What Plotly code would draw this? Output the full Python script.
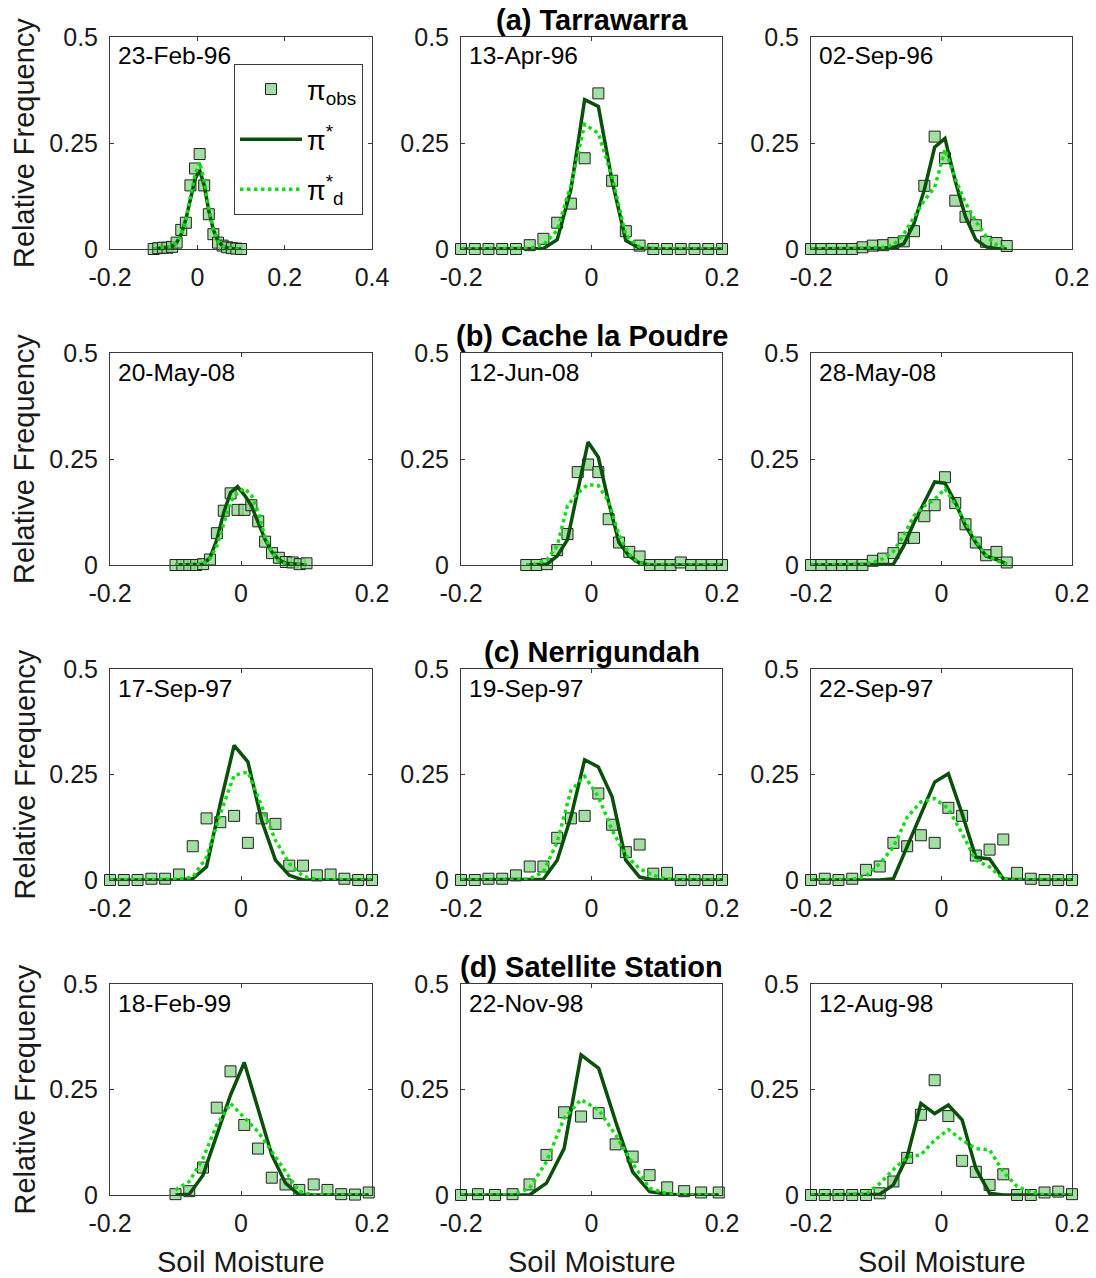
import plotly.graph_objects as go

W, H = 1096, 1278
FONT = "Liberation Sans, Arial, Helvetica, sans-serif"

# ---------------- data ----------------
site_titles = ["(a) Tarrawarra", "(b) Cache la Poudre", "(c) Nerrigundah", "(d) Satellite Station"]
dates = ["23-Feb-96", "13-Apr-96", "02-Sep-96",
         "20-May-08", "12-Jun-08", "28-May-08",
         "17-Sep-97", "19-Sep-97", "22-Sep-97",
         "18-Feb-99", "22-Nov-98", "12-Aug-98"]

x_m10_p10 = [-0.1, -0.0895, -0.0789, -0.0684, -0.0579, -0.0474, -0.0368, -0.0263, -0.0158, -0.0053,
             0.0053, 0.0158, 0.0263, 0.0368, 0.0474, 0.0579, 0.0684, 0.0789, 0.0895, 0.1]
x_m20_p20 = [-0.2, -0.1789, -0.1579, -0.1368, -0.1158, -0.0947, -0.0737, -0.0526, -0.0316, -0.0105,
             0.0105, 0.0316, 0.0526, 0.0737, 0.0947, 0.1158, 0.1368, 0.1579, 0.1789, 0.2]
x_m20_p10 = [-0.2, -0.1842, -0.1684, -0.1526, -0.1368, -0.1211, -0.1053, -0.0895, -0.0737, -0.0579,
             -0.0421, -0.0263, -0.0105, 0.0053, 0.0211, 0.0368, 0.0526, 0.0684, 0.0842, 0.1]
x_m10_p20 = [-0.1, -0.0842, -0.0684, -0.0526, -0.0368, -0.0211, -0.0053, 0.0105, 0.0263, 0.0421,
             0.0579, 0.0737, 0.0895, 0.1053, 0.1211, 0.1368, 0.1526, 0.1684, 0.1842, 0.2]
x_feb99 = [-0.1, -0.079, -0.058, -0.037, -0.016, 0.005, 0.026, 0.047, 0.068, 0.089,
           0.111, 0.132, 0.153, 0.174, 0.195]
x_nov98 = [-0.2, -0.174, -0.148, -0.121, -0.095, -0.069, -0.042, -0.016, 0.011, 0.037,
           0.063, 0.089, 0.116, 0.142, 0.168, 0.195]

# 23-Feb-96
obs_1 = [0.0, 0.002, 0.003, 0.003, 0.005, 0.015, 0.045, 0.062, 0.15, 0.19, 0.224, 0.15, 0.082, 0.035, 0.015, 0.008, 0.004, 0.002, 0.001, 0.0]
pst_1 = [0.0, 0.001, 0.002, 0.003, 0.006, 0.015, 0.035, 0.07, 0.12, 0.165, 0.186, 0.15, 0.09, 0.045, 0.018, 0.007, 0.003, 0.001, 0.0, 0.0]
pd_1 = [0.0, 0.001, 0.002, 0.003, 0.006, 0.015, 0.035, 0.07, 0.125, 0.175, 0.205, 0.16, 0.095, 0.045, 0.018, 0.007, 0.003, 0.001, 0.0, 0.0]
# 13-Apr-96
obs_2 = [0, 0, 0, 0, 0, 0.009, 0.024, 0.062, 0.107, 0.214, 0.367, 0.161, 0.042, 0.008, 0, 0, 0, 0, 0, 0]
pst_2 = [0, 0, 0, 0, 0, 0, 0.001, 0.022, 0.14, 0.352, 0.336, 0.16, 0.02, 0.002, 0, 0, 0, 0, 0, 0]
pd_2 = [0, 0, 0, 0, 0, 0.002, 0.01, 0.044, 0.15, 0.294, 0.273, 0.17, 0.032, 0.005, 0.001, 0, 0, 0, 0, 0]
# 02-Sep-96
obs_3 = [0, 0, 0, 0, 0, 0.004, 0.008, 0.009, 0.014, 0.018, 0.042, 0.149, 0.265, 0.214, 0.114, 0.076, 0.056, 0.017, 0.014, 0.007]
pst_3 = [0, 0, 0, 0, 0, 0, 0.001, 0.002, 0.004, 0.012, 0.06, 0.14, 0.24, 0.261, 0.16, 0.076, 0.022, 0.005, 0.001, 0]
pd_3 = [0, 0, 0, 0, 0.001, 0.002, 0.003, 0.004, 0.01, 0.035, 0.075, 0.115, 0.145, 0.235, 0.166, 0.109, 0.065, 0.03, 0.01, 0.002]
# 20-May-08
obs_4 = [0, 0, 0, 0, 0.002, 0.013, 0.075, 0.128, 0.169, 0.13, 0.13, 0.141, 0.103, 0.055, 0.028, 0.017, 0.007, 0.006, 0.002, 0.004]
pst_4 = [0, 0, 0, 0, 0.002, 0.017, 0.06, 0.124, 0.171, 0.185, 0.165, 0.14, 0.1, 0.06, 0.03, 0.012, 0.004, 0.002, 0.001, 0]
pd_4 = [0, 0, 0, 0, 0.003, 0.015, 0.045, 0.1, 0.15, 0.17, 0.181, 0.165, 0.125, 0.065, 0.03, 0.008, 0.003, 0.001, 0, 0]
# 12-Jun-08
obs_5 = [0, 0, 0.002, 0.035, 0.073, 0.219, 0.237, 0.219, 0.108, 0.053, 0.031, 0.02, 0, 0, 0, 0.006, 0, 0, 0, 0]
pst_5 = [0, 0.001, 0.002, 0.021, 0.06, 0.175, 0.29, 0.254, 0.148, 0.053, 0.021, 0.004, 0, 0, 0, 0, 0, 0, 0, 0]
pd_5 = [0, 0.002, 0.013, 0.045, 0.14, 0.17, 0.19, 0.187, 0.15, 0.07, 0.025, 0.004, 0.001, 0, 0, 0, 0, 0, 0, 0]
# 28-May-08
obs_6 = [0, 0, 0, 0, 0, 0, 0.01, 0.015, 0.028, 0.064, 0.064, 0.115, 0.141, 0.207, 0.146, 0.096, 0.053, 0.023, 0.031, 0.006]
pst_6 = [0, 0, 0, 0, 0, 0, 0, 0.001, 0.002, 0.045, 0.1, 0.148, 0.196, 0.193, 0.148, 0.092, 0.053, 0.021, 0.013, 0.002]
pd_6 = [0, 0, 0, 0, 0, 0.002, 0.006, 0.015, 0.032, 0.07, 0.116, 0.139, 0.155, 0.18, 0.143, 0.1, 0.057, 0.023, 0.01, 0.002]
# 17-Sep-97
obs_7 = [0, 0, 0, 0.003, 0.003, 0.013, 0.08, 0.146, 0.137, 0.152, 0.088, 0.146, 0.133, 0.034, 0.034, 0.011, 0.013, 0.003, 0, 0]
pst_7 = [0, 0, 0, 0, 0, 0, 0.003, 0.031, 0.181, 0.319, 0.28, 0.141, 0.047, 0.011, 0, 0, 0, 0, 0, 0]
pd_7 = [0, 0, 0, 0, 0, 0.002, 0.007, 0.054, 0.157, 0.248, 0.256, 0.173, 0.094, 0.039, 0.009, 0.001, 0, 0, 0, 0]
# 19-Sep-97
obs_8 = [0, 0, 0.003, 0.003, 0.011, 0.032, 0.032, 0.1, 0.146, 0.152, 0.205, 0.131, 0.066, 0.084, 0.015, 0.017, 0, 0, 0, 0]
pst_8 = [0, 0, 0, 0, 0, 0, 0.002, 0.047, 0.149, 0.285, 0.268, 0.197, 0.047, 0.007, 0, 0, 0, 0, 0, 0]
pd_8 = [0, 0, 0, 0, 0, 0.003, 0.019, 0.09, 0.212, 0.246, 0.197, 0.118, 0.058, 0.027, 0.011, 0.002, 0, 0, 0, 0]
# 22-Sep-97
obs_9 = [0, 0.003, 0, 0.003, 0.024, 0.032, 0.088, 0.08, 0.106, 0.088, 0.171, 0.152, 0.058, 0.072, 0.096, 0.017, 0.003, 0, 0, 0]
pst_9 = [0, 0, 0, 0, 0, 0, 0.003, 0.08, 0.16, 0.232, 0.252, 0.157, 0.054, 0.05, 0.003, 0, 0, 0, 0, 0]
pd_9 = [0, 0, 0, 0.001, 0.009, 0.039, 0.078, 0.149, 0.185, 0.193, 0.169, 0.11, 0.047, 0.031, 0.003, 0, 0, 0, 0, 0]
# 18-Feb-99
obs_10 = [0.002, 0.009, 0.065, 0.207, 0.293, 0.166, 0.11, 0.041, 0.025, 0.012, 0.025, 0.012, 0.002, 0.001, 0.006]
pst_10 = [0, 0.002, 0.047, 0.142, 0.237, 0.314, 0.205, 0.095, 0.028, 0, 0, 0, 0, 0, 0]
pd_10 = [0.012, 0.032, 0.087, 0.166, 0.217, 0.182, 0.15, 0.103, 0.055, 0.008, 0, 0, 0, 0, 0]
# 22-Nov-98
obs_11 = [0, 0.002, 0, 0.002, 0.025, 0.095, 0.196, 0.186, 0.194, 0.12, 0.091, 0.047, 0.018, 0.009, 0.006, 0.006]
pst_11 = [0, 0, 0, 0, 0, 0.028, 0.11, 0.332, 0.3, 0.174, 0.055, 0.008, 0.002, 0, 0, 0]
pd_11 = [0, 0, 0, 0, 0.016, 0.079, 0.182, 0.226, 0.202, 0.142, 0.075, 0.016, 0.003, 0, 0, 0]
# 12-Aug-98
obs_12 = [0, 0, 0, 0, 0, 0.004, 0.032, 0.088, 0.19, 0.272, 0.187, 0.081, 0.055, 0.024, 0.049, 0, 0, 0.006, 0.008, 0.002]
pst_12 = [0, 0, 0, 0, 0, 0.002, 0.024, 0.091, 0.217, 0.193, 0.213, 0.178, 0.063, 0.004, 0, 0, 0, 0, 0, 0]
pd_12 = [0, 0, 0, 0, 0.002, 0.027, 0.06, 0.09, 0.095, 0.13, 0.155, 0.13, 0.11, 0.107, 0.055, 0.02, 0.007, 0, 0, 0]

panels = [
    (x_m10_p10, obs_1, pst_1, pd_1),
    (x_m20_p20, obs_2, pst_2, pd_2),
    (x_m20_p10, obs_3, pst_3, pd_3),
    (x_m10_p10, obs_4, pst_4, pd_4),
    (x_m10_p20, obs_5, pst_5, pd_5),
    (x_m20_p10, obs_6, pst_6, pd_6),
    (x_m20_p20, obs_7, pst_7, pd_7),
    (x_m20_p20, obs_8, pst_8, pd_8),
    (x_m20_p20, obs_9, pst_9, pd_9),
    (x_feb99, obs_10, pst_10, pd_10),
    (x_nov98, obs_11, pst_11, pd_11),
    (x_m20_p20, obs_12, pst_12, pd_12),
]

y_ticks = [0, 0.25, 0.5]
y_ticktext = ["0", "0.25", "0.5"]
x_ticks_wide = [-0.2, 0, 0.2, 0.4]
x_ticktext_wide = ["-0.2", "0", "0.2", "0.4"]
x_ticks = [-0.2, 0, 0.2]
x_ticktext = ["-0.2", "0", "0.2"]

# ---------------- layout geometry (pixels) ----------------
col_px = [(110, 372), (461, 722), (811, 1072)]
row_px = [(37, 249), (353, 565), (669, 880), (984, 1195)]

DARK = "#0a500a"
LIGHT = "#12dd12"
SQ_FILL = "rgba(140,214,140,0.8)"
AXC = "#3a3a3a"

fig = go.Figure()
layout = dict(
    template="none",
    width=W, height=H,
    margin=dict(l=0, r=0, t=0, b=0, pad=0, autoexpand=False),
    paper_bgcolor="white", plot_bgcolor="white",
    font=dict(family=FONT, size=24, color="black"),
    showlegend=True,
)

annotations = []
for k, (xs, ob, ps, pdd) in enumerate(panels):
    r, c = divmod(k, 3)
    sfx = "" if k == 0 else str(k + 1)
    xa, ya = "x" + sfx, "y" + sfx
    first = (k == 0)
    fig.add_trace(go.Scatter(
        x=xs, y=ob, xaxis=xa, yaxis=ya, mode="markers", cliponaxis=False,
        marker=dict(symbol="square", size=11, color=SQ_FILL, line=dict(color="#222222", width=1)),
        name="π<sub>obs</sub>", legendgroup="obs", showlegend=first))
    fig.add_trace(go.Scatter(
        x=xs, y=ps, xaxis=xa, yaxis=ya, mode="lines", cliponaxis=False,
        line=dict(color=DARK, width=3.5),
        name="π<sup>*</sup>", legendgroup="pst", showlegend=first))
    fig.add_trace(go.Scatter(
        x=xs, y=pdd, xaxis=xa, yaxis=ya, mode="lines", cliponaxis=False,
        line=dict(color=LIGHT, width=3.5, dash="dot"),
        name="π<sup>*</sup><sub>d</sub>", legendgroup="pd", showlegend=first))

    x0, x1 = col_px[c]
    y0, y1 = row_px[r]
    wide = (k == 0)
    layout["xaxis" + sfx] = dict(
        domain=[x0 / W, x1 / W], anchor=ya, automargin=False,
        range=[-0.2, 0.4] if wide else [-0.2, 0.2],
        tickvals=x_ticks_wide if wide else x_ticks,
        ticktext=x_ticktext_wide if wide else x_ticktext,
        ticks="inside", ticklen=4, tickcolor=AXC, tickwidth=1,
        showline=True, linecolor=AXC, linewidth=1, mirror="ticks",
        showgrid=False, zeroline=False,
        tickfont=dict(size=25, family=FONT, color="#1a1a1a"),
        ticklabelstandoff=6,
    )
    layout["yaxis" + sfx] = dict(
        domain=[1 - y1 / H, 1 - y0 / H], anchor=xa, automargin=False,
        range=[0, 0.5], tickvals=y_ticks, ticktext=y_ticktext,
        ticks="inside", ticklen=4, tickcolor=AXC, tickwidth=1,
        showline=True, linecolor=AXC, linewidth=1, mirror="ticks",
        showgrid=False, zeroline=False,
        tickfont=dict(size=25, family=FONT, color="#1a1a1a"),
        ticklabelstandoff=6,
    )
    # date label
    annotations.append(dict(
        text=dates[k], xref="paper", yref="paper",
        x=(x0 + 6) / W, y=1 - (y0 + 19) / H, xanchor="left", yanchor="middle",
        showarrow=False, font=dict(size=24.5, family=FONT, color="black")))
    if c == 0:
        annotations.append(dict(
            text="Relative Frequency", xref="paper", yref="paper",
            x=24 / W, y=1 - ((y0 + y1) / 2) / H, xanchor="center", yanchor="middle",
            textangle=-90, showarrow=False, font=dict(size=29, family=FONT, color="#1a1a1a")))
    if r == 3:
        annotations.append(dict(
            text="Soil Moisture", xref="paper", yref="paper",
            x=((x0 + x1) / 2) / W, y=1 - 1262 / H, xanchor="center", yanchor="middle",
            showarrow=False, font=dict(size=29, family=FONT, color="#1a1a1a")))
    if c == 1:
        annotations.append(dict(
            text="<b>" + site_titles[r] + "</b>", xref="paper", yref="paper",
            x=((x0 + x1) / 2) / W, y=1 - (y0 - 17) / H, xanchor="center", yanchor="middle",
            showarrow=False, font=dict(size=29, family=FONT, color="black")))

layout["annotations"] = annotations
layout["legend"] = dict(
    x=234 / W, y=1 - 64 / H, xanchor="left", yanchor="top",
    bgcolor="white", bordercolor=AXC, borderwidth=1,
    font=dict(size=27, family=FONT, color="black"),
    tracegroupgap=12, itemwidth=62,
)
fig.update_layout(**layout)
fig.write_html("out.html")
